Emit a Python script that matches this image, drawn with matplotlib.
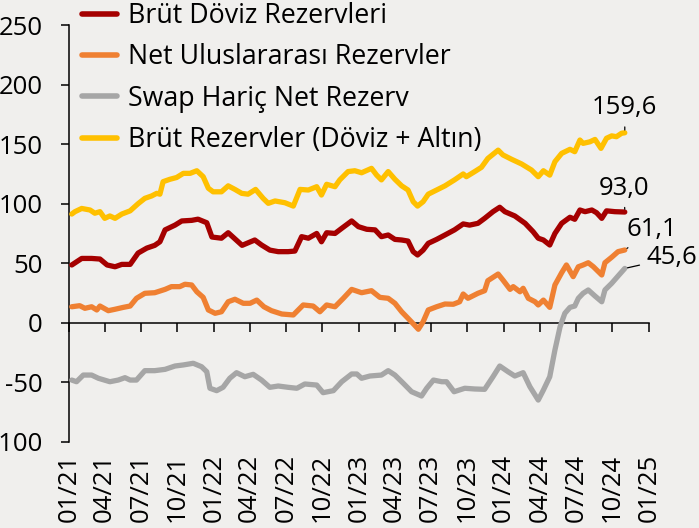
import matplotlib
matplotlib.use("Agg")
import matplotlib.pyplot as plt
import matplotlib.dates as mdates
from matplotlib.lines import Line2D
import pandas as pd

plt.rcParams['font.family'] = ['Open Sans', 'DejaVu Sans']
plt.rcParams['axes.unicode_minus'] = False

# ---------------- data ----------------
series_names = ["Brüt Döviz Rezervleri", "Net Uluslararası Rezervler",
                "Swap Hariç Net Rezerv", "Brüt Rezervler (Döviz + Altın)"]
series_colors = ["#A50000", "#EF8032", "#A6A6A6", "#FFC000"]

dates_brut_rez = ["2021-01-08","2021-01-16","2021-02-02","2021-02-23","2021-03-07","2021-03-20","2021-04-01","2021-04-14",
    "2021-04-27","2021-05-14","2021-06-04","2021-06-24","2021-07-11","2021-07-28","2021-08-10","2021-08-18","2021-08-26",
    "2021-09-12","2021-09-29","2021-10-16","2021-11-02","2021-11-19","2021-12-05","2021-12-18","2021-12-30","2022-01-20",
    "2022-02-06","2022-02-23","2022-03-12","2022-03-28","2022-04-16","2022-05-05","2022-05-18","2022-06-04","2022-06-29",
    "2022-07-20","2022-08-06","2022-08-27","2022-09-17","2022-09-29","2022-10-12","2022-11-02","2022-11-14","2022-12-05",
    "2022-12-22","2023-01-08","2023-02-02","2023-02-15","2023-02-27","2023-03-16","2023-04-02","2023-04-19","2023-05-05",
    "2023-05-18","2023-05-29","2023-06-12","2023-06-25","2023-07-16","2023-08-06","2023-08-30","2023-09-21","2023-09-29",
    "2023-10-20","2023-11-06","2023-11-22","2023-12-18","2023-12-30","2024-01-21","2024-02-15","2024-03-11","2024-03-28",
    "2024-04-10","2024-04-26","2024-05-09","2024-05-26","2024-06-16","2024-06-28","2024-07-11","2024-07-19","2024-08-05",
    "2024-08-18","2024-09-02","2024-09-16","2024-09-29","2024-10-11","2024-10-24","2024-11-01"]
brut_rez = [91.3,93.3,96,94.7,92,93.3,87.7,89.7,87.7,91.3,94,100,104.5,106.5,108.7,108,118.5,120.5,122,125.5,125.5,127.7,
    122.7,113,110,110,115,112,108.7,108,112,104.5,100.3,102.3,100.8,98,112,111.5,114.3,107.3,116.3,114.3,120,127,127.7,126,
    129.7,124,120,127,120.5,115,111.5,101.7,98,101.7,108,111.5,115,120,125,122.7,127,130.6,138,145,141,137.3,133.4,128.3,
    122.7,127.7,124,135.3,142.3,145.7,143.7,153.5,150.7,152,154,146.5,155,157,156.3,159.2,159.6]

dates_brut_doviz = ["2021-01-08","2021-02-02","2021-02-27","2021-03-20","2021-04-07","2021-04-27","2021-05-14","2021-06-04",
    "2021-06-24","2021-07-16","2021-08-05","2021-08-18","2021-08-31","2021-09-25","2021-10-12","2021-11-06","2021-11-22",
    "2021-12-14","2021-12-27","2022-01-20","2022-02-06","2022-03-13","2022-04-14","2022-05-01","2022-05-22","2022-06-12",
    "2022-07-07","2022-07-24","2022-08-10","2022-08-27","2022-09-17","2022-09-29","2022-10-12","2022-11-02","2022-11-19",
    "2022-12-14","2022-12-31","2023-01-21","2023-02-11","2023-02-27","2023-03-16","2023-04-02","2023-04-19","2023-05-05",
    "2023-05-18","2023-05-29","2023-06-12","2023-06-25","2023-07-16","2023-08-06","2023-08-30","2023-09-21","2023-10-07",
    "2023-10-28","2023-11-14","2023-12-05","2023-12-22","2024-01-04","2024-01-29","2024-02-24","2024-03-15","2024-03-28",
    "2024-04-10","2024-04-26","2024-05-09","2024-05-26","2024-06-16","2024-06-28","2024-07-11","2024-07-24","2024-08-10",
    "2024-08-22","2024-09-04","2024-09-16","2024-10-07","2024-11-01"]
brut_doviz = [48.5,54,54,53.5,48.5,47,49,49,58.5,62.7,65,68,78,82,85.5,86,87,84,72,71,75.6,65,69.5,65.3,61,59.7,59.7,60.2,
    72.3,71,75,68,75.6,75,79.3,85.5,80.7,78.5,78,72.3,73.7,70,69.5,68.6,59.7,56.9,61,66.7,70,73.7,78,83,82,83.5,87.7,93.3,
    97,93.3,89.7,83.5,76.5,71,69.5,65.3,75,83.5,88.6,86.9,94.7,93.3,94.7,92.4,87.7,94,93.3,93.0]

dates_net_ulus = ["2021-01-08","2021-01-28","2021-02-10","2021-02-27","2021-03-12","2021-03-20","2021-04-10","2021-04-27",
    "2021-05-18","2021-06-04","2021-06-20","2021-07-11","2021-08-05","2021-08-31","2021-09-16","2021-10-07","2021-10-20",
    "2021-11-06","2021-11-19","2021-12-05","2021-12-18","2022-01-04","2022-01-20","2022-02-06","2022-02-23","2022-03-16",
    "2022-04-02","2022-04-19","2022-05-07","2022-05-26","2022-06-21","2022-07-20","2022-08-14","2022-09-08","2022-09-25",
    "2022-10-12","2022-11-02","2022-11-23","2022-12-14","2023-01-08","2023-02-02","2023-02-23","2023-03-16","2023-04-02",
    "2023-04-19","2023-05-05","2023-05-21","2023-05-31","2023-06-12","2023-06-25","2023-07-16","2023-08-06","2023-08-27",
    "2023-09-12","2023-09-21","2023-10-03","2023-10-28","2023-11-14","2023-11-22","2023-12-18","2023-12-30","2024-01-17",
    "2024-01-25","2024-02-11","2024-02-19","2024-03-03","2024-03-20","2024-03-28","2024-04-10","2024-04-26","2024-05-09",
    "2024-05-26","2024-06-07","2024-06-24","2024-07-07","2024-07-19","2024-08-01","2024-08-14","2024-09-04","2024-09-12",
    "2024-09-29","2024-10-15","2024-11-01"]
net_ulus = [13.4,14.3,12.1,13.4,10.7,14,10.1,11.3,12.9,14,20.5,24.7,25.2,28,30.3,30.3,32.3,31.7,26,21.3,10.7,7.9,9.2,17.6,
    19.7,16.3,16.3,19,13.4,10.1,7.3,6.5,14.9,14,9.2,14.9,13.4,20.5,28,25.2,26.9,21.3,20.5,16.3,9.2,3.7,-1.9,-5.5,0.8,10.7,
    13.4,15.7,15.5,17.6,24.1,20.5,24.7,26.9,35.3,40.9,35.9,28,30.3,26,28.9,20.5,17.6,14.9,19,12.9,31.7,42,48.5,38.7,47,48.5,
    50.4,47,40.1,50.4,55,59.7,61.1]

dates_swap_haric = ["2021-01-08","2021-01-20","2021-02-06","2021-02-27","2021-03-16","2021-04-14","2021-05-05","2021-05-22",
    "2021-06-04","2021-06-20","2021-07-11","2021-08-05","2021-08-31","2021-09-25","2021-10-16","2021-11-10","2021-12-01",
    "2021-12-14","2021-12-22","2022-01-08","2022-01-24","2022-02-10","2022-02-27","2022-03-20","2022-04-10","2022-05-01",
    "2022-05-22","2022-06-12","2022-07-07","2022-07-29","2022-08-18","2022-09-17","2022-10-03","2022-10-29","2022-11-19",
    "2022-12-14","2022-12-27","2023-01-08","2023-01-29","2023-02-27","2023-03-16","2023-04-02","2023-04-23","2023-05-14",
    "2023-06-08","2023-06-21","2023-07-08","2023-07-29","2023-08-10","2023-08-29","2023-09-25","2023-10-20","2023-11-14",
    "2023-12-05","2023-12-22","2024-01-12","2024-01-29","2024-02-19","2024-03-07","2024-03-28","2024-04-10","2024-04-26",
    "2024-05-09","2024-05-22","2024-06-03","2024-06-16","2024-06-28","2024-07-07","2024-07-19","2024-08-01","2024-08-18",
    "2024-09-04","2024-09-12","2024-09-29","2024-10-15","2024-11-01"]
swap_haric = [-48.2,-49.6,-44,-44,-46.7,-49.6,-48.2,-46.2,-48.2,-48.2,-40.3,-40.3,-39.2,-36.4,-35.5,-34.1,-37,-41.2,-55.1,
    -57.1,-54.3,-46.7,-42,-45.4,-43.4,-48.2,-54.3,-53.2,-54.3,-55.1,-51.5,-52.4,-58.8,-57.1,-49.6,-43.1,-43.1,-46.7,-44.8,
    -44,-40.3,-44,-50.9,-58,-61.6,-55.1,-48.2,-49.6,-49.6,-58,-55.1,-55.7,-56,-45.4,-36.4,-41.2,-44.8,-42,-53.8,-65,-56.6,
    -45.4,-23,-3.4,7.9,12.9,14,20.5,24.7,27.5,22.4,17.6,27.5,33.1,39.2,45.6]

tick_dates = pd.date_range("2021-01-01", "2025-01-01", freq="QS")
y_ticks = [-100, -50, 0, 50, 100, 150, 200, 250]

# ---------------- figure ----------------
BG = "#F0EFED"
W, H = 699, 528
fig = plt.figure(figsize=(W / 100, H / 100), dpi=100, facecolor=BG)
ax = fig.add_axes([69 / W, 1 - 441.7 / H, 580 / W, (441.7 - 25.2) / H], facecolor=BG)

all_series = [
    (dates_brut_doviz, brut_doviz),
    (dates_net_ulus, net_ulus),
    (dates_swap_haric, swap_haric),
    (dates_brut_rez, brut_rez),
]
handles = []
for (d, v), name, col in zip(all_series, series_names, series_colors):
    ax.plot(pd.to_datetime(d), v, color=col, lw=3.8, solid_joinstyle="round", solid_capstyle="round", zorder=3)
    handles.append(Line2D([], [], color=col, lw=4.0, solid_capstyle="round", label=name))

ax.set_xlim(pd.Timestamp("2021-01-01"), pd.Timestamp("2025-01-01"))
ax.set_ylim(-100, 250)
ax.set_yticks(y_ticks)
ax.set_yticklabels([str(t) for t in y_ticks])
ax.set_xticks(tick_dates)
ax.xaxis.set_major_formatter(mdates.DateFormatter("%m/%y"))

for s in ["top", "right"]:
    ax.spines[s].set_visible(False)
ax.spines["bottom"].set_position(("data", 0))
ax.spines["left"].set_linewidth(1.1)
ax.spines["bottom"].set_linewidth(1.1)
ax.tick_params(axis="y", direction="out", length=6, width=1.1, pad=13, labelsize=18.5, colors="black")
ax.tick_params(axis="x", direction="out", length=6.5, width=1.1, pad=88, labelsize=18.5, labelrotation=90, colors="black")

# end labels
end_specs = [
    (dates_brut_rez, brut_rez, (0, 18.2)),
    (dates_brut_doviz, brut_doviz, (-0.4, 17.3)),
    (dates_net_ulus, net_ulus, (19.8, 14.4)),
    (dates_swap_haric, swap_haric, (33.8, 7.6)),
]
for d, v, off in end_specs:
    lab = f"{v[-1]:.1f}".replace(".", ",")
    ax.annotate(lab, xy=(pd.Timestamp(d[-1]), v[-1]), xytext=off, textcoords="offset points",
                ha="center", va="center", fontsize=18.5, color="black", annotation_clip=False,
                arrowprops=dict(arrowstyle="-", color="black", lw=0.9, shrinkA=3, shrinkB=2), zorder=5)

fig.legend(handles=handles, loc="upper left", bbox_to_anchor=(82 / W, 1 - 2 / H), frameon=False,
           fontsize=19.3, handlelength=1.3, handletextpad=0.42, labelspacing=0.5, borderpad=0,
           borderaxespad=0)

fig.savefig("out.png", dpi=100, facecolor=BG)
